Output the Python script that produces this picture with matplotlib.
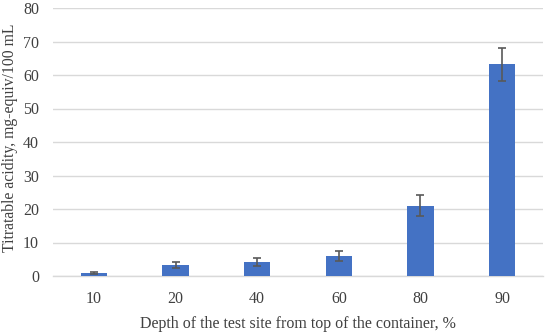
import matplotlib
matplotlib.use("Agg")
import matplotlib.pyplot as plt
import numpy as np

categories = ["10", "20", "40", "60", "80", "90"]
values = [1.0, 3.3, 4.3, 6.0, 21.0, 63.2]
errors = [0.3, 1.0, 1.2, 1.6, 3.2, 5.0]
yticks = [0, 10, 20, 30, 40, 50, 60, 70, 80]

plt.rcParams['font.family'] = ['Liberation Serif']
fig = plt.figure(figsize=(5.5, 3.34), dpi=100)
ax = fig.add_axes([53/550, 1 - 276/334, 490/550, 268/334])

x = np.arange(len(categories))
ax.bar(x, values, width=0.32, color="#4472C4", zorder=3,
       yerr=errors, error_kw=dict(ecolor="#595959", elinewidth=1.2, capsize=3, capthick=1.2))
ax.set_xlim(-0.5, len(categories) - 0.5)
ax.set_ylim(0, 80)
ax.set_yticks(yticks)
ax.set_xticks(x)
ax.set_xticklabels(categories)
ax.grid(axis="y", color="#D9D9D9", linewidth=1, zorder=0)
for s in ["top", "right", "left"]:
    ax.spines[s].set_visible(False)
ax.spines["bottom"].set_color("#D9D9D9")
ax.spines["bottom"].set_linewidth(1)
ax.tick_params(axis="both", length=0, labelsize=11.5, colors="#404040")
ax.tick_params(axis="x", pad=11)
ax.tick_params(axis="y", pad=10)
ax.set_xlabel("Depth of the test site from top of the container, %", fontsize=11.5, color="#404040", labelpad=6)
ax.set_ylabel("Titratable acidity, mg-equiv/100 mL", fontsize=11.3, color="#404040")
ax.yaxis.set_label_coords(-0.071, 0.515)
fig.savefig("out.png", dpi=100)
